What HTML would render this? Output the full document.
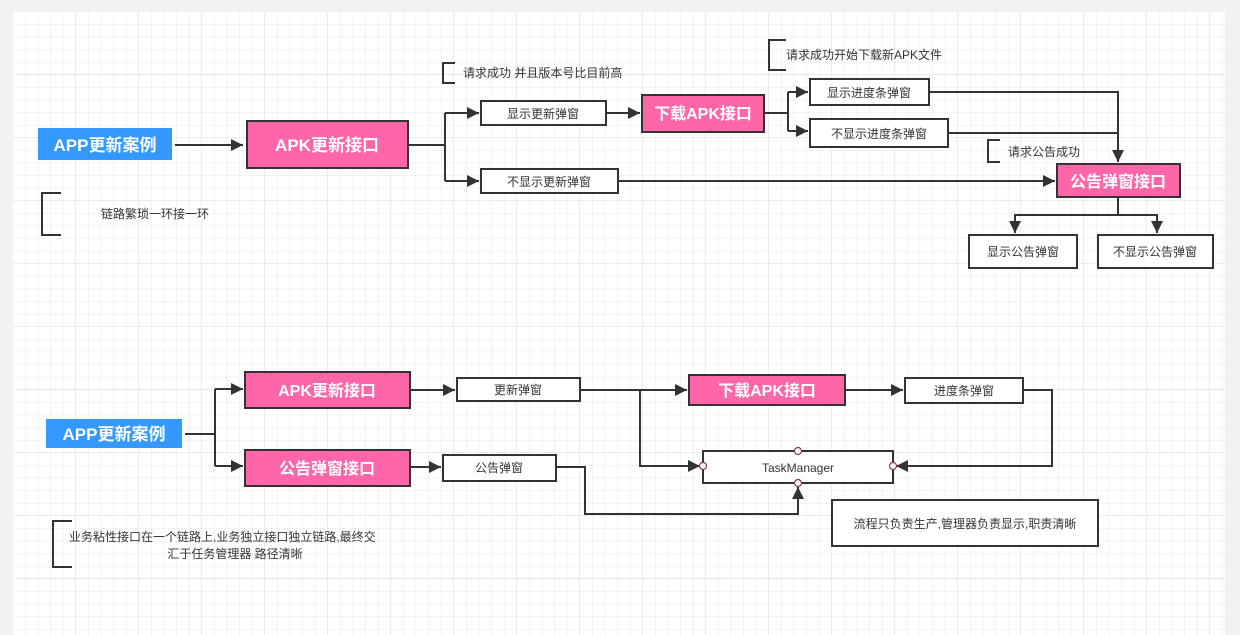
<!DOCTYPE html>
<html><head><meta charset="utf-8"><style>
html,body{margin:0;padding:0;background:#f2f2f2;}
svg{display:block;font-family:"Liberation Sans","Noto Sans CJK SC",sans-serif;}
</style></head><body>
<svg width="1240" height="635" viewBox="0 0 1240 635" xmlns="http://www.w3.org/2000/svg">
<defs>
<pattern id="g" x="13" y="12" width="12.6" height="12.6" patternUnits="userSpaceOnUse">
<path d="M12.6 0V12.6H0" fill="none" stroke="#e6e6e6" stroke-width="1"/>
</pattern>
<pattern id="G" x="13" y="12" width="63" height="63" patternUnits="userSpaceOnUse">
<path d="M63 0V63H0" fill="none" stroke="#d9d9d9" stroke-width="1"/>
</pattern>
<marker id="a" viewBox="0 0 10 10" refX="10" refY="5" markerWidth="6" markerHeight="6" orient="auto" markerUnits="strokeWidth"><path d="M0 0L10 5L0 10z" fill="#333"/></marker>
</defs>
<rect x="13" y="12" width="1212" height="623" fill="#fff"/>
<rect x="13" y="12" width="1212" height="623" fill="url(#g)"/>
<rect x="13" y="12" width="1212" height="623" fill="url(#G)"/>

<g stroke="#333" stroke-width="2" fill="none">
<path d="M175 145H243" marker-end="url(#a)"/>
<path d="M408 145H445M445 113V181M445 113H479" marker-end="url(#a)"/>
<path d="M445 181H479" marker-end="url(#a)"/>
<path d="M606 113H640" marker-end="url(#a)"/>
<path d="M764 113H788M788 92V131M788 92H808" marker-end="url(#a)"/>
<path d="M788 131H808" marker-end="url(#a)"/>
<path d="M929 92H1118V162" marker-end="url(#a)"/>
<path d="M948 133H1118"/>
<path d="M618 181H1055" marker-end="url(#a)"/>
<path d="M1118 197V215H1015V233" marker-end="url(#a)"/>
<path d="M1118 215H1157V233" marker-end="url(#a)"/>
<path d="M455 63H443V83H455"/>
<path d="M786 40H769V70H786"/>
<path d="M1000 140H988V162H1000"/>
<path d="M61 193H42V235H61"/>
<path d="M72 521H53V567H72"/>
<path d="M185 434H215M215 389V466M215 389H243" marker-end="url(#a)"/>
<path d="M215 466H243" marker-end="url(#a)"/>
<path d="M410 390H455" marker-end="url(#a)"/>
<path d="M410 467H441" marker-end="url(#a)"/>
<path d="M580 390H687" marker-end="url(#a)"/>
<path d="M640 390V466H700" marker-end="url(#a)"/>
<path d="M845 390H903" marker-end="url(#a)"/>
<path d="M1023 390H1052V466H896" marker-end="url(#a)"/>
<path d="M556 467H585V514H798V487" marker-end="url(#a)"/>
</g>

<rect x="38" y="128" width="134" height="32" fill="#3399ff"/>
<text x="105" y="151" fill="#fff" font-size="17" font-weight="bold" text-anchor="middle">APP更新案例</text>
<rect x="247" y="121" width="161" height="47" fill="#ff66aa" stroke="#333" stroke-width="2"/>
<text x="327" y="151" fill="#fff" font-size="17" font-weight="bold" text-anchor="middle">APK更新接口</text>
<g fill="#fff" stroke="#333" stroke-width="2">
<rect x="481" y="101" width="125" height="24"/>
<rect x="481" y="169" width="137" height="24"/>
<rect x="810" y="79" width="119" height="26"/>
<rect x="810" y="119" width="138" height="28"/>
<rect x="969" y="235" width="108" height="33"/>
<rect x="1098" y="235" width="115" height="33"/>
<rect x="457" y="378" width="123" height="23"/>
<rect x="443" y="455" width="113" height="26"/>
<rect x="905" y="378" width="118" height="25"/>
<rect x="703" y="451" width="190" height="32"/>
<rect x="832" y="500" width="266" height="46"/>
</g>
<rect x="642" y="95" width="122" height="37" fill="#ff66aa" stroke="#333" stroke-width="2"/>
<text x="703" y="119" fill="#fff" font-size="16" font-weight="bold" text-anchor="middle">下载APK接口</text>
<rect x="1057" y="164" width="123" height="33" fill="#ff66aa" stroke="#333" stroke-width="2"/>
<text x="1118" y="187" fill="#fff" font-size="16" font-weight="bold" text-anchor="middle">公告弹窗接口</text>

<g font-size="12" fill="#333" text-anchor="middle">
<text x="543" y="118">显示更新弹窗</text>
<text x="549" y="186">不显示更新弹窗</text>
<text x="869" y="97">显示进度条弹窗</text>
<text x="879" y="138">不显示进度条弹窗</text>
<text x="1023" y="256">显示公告弹窗</text>
<text x="1155" y="256">不显示公告弹窗</text>
<text x="518" y="394">更新弹窗</text>
<text x="499" y="472">公告弹窗</text>
<text x="964" y="395">进度条弹窗</text>
<text x="798" y="472">TaskManager</text>
<text x="965" y="528">流程只负责生产,管理器负责显示,职责清晰</text>
<text x="235" y="558">汇于任务管理器 路径清晰</text>
</g>
<g font-size="12" fill="#333">
<text x="463" y="77">请求成功 并且版本号比目前高</text>
<text x="786" y="59">请求成功开始下载新APK文件</text>
<text x="1008" y="156">请求公告成功</text>
<text x="101" y="218">链路繁琐一环接一环</text>
<text x="69" y="541">业务粘性接口在一个链路上,业务独立接口独立链路,最终交</text>
</g>

<rect x="46" y="419" width="136" height="29" fill="#3399ff"/>
<text x="114" y="440" fill="#fff" font-size="17" font-weight="bold" text-anchor="middle">APP更新案例</text>
<rect x="245" y="372" width="165" height="36" fill="#ff66aa" stroke="#333" stroke-width="2"/>
<text x="327" y="396" fill="#fff" font-size="16" font-weight="bold" text-anchor="middle">APK更新接口</text>
<rect x="245" y="450" width="165" height="36" fill="#ff66aa" stroke="#333" stroke-width="2"/>
<text x="327" y="474" fill="#fff" font-size="16" font-weight="bold" text-anchor="middle">公告弹窗接口</text>
<rect x="689" y="375" width="156" height="30" fill="#ff66aa" stroke="#333" stroke-width="2"/>
<text x="767" y="396" fill="#fff" font-size="16" font-weight="bold" text-anchor="middle">下载APK接口</text>

<g fill="#fff" stroke="#8b3a4a" stroke-width="1.2">
<circle cx="703" cy="466" r="3.5"/>
<circle cx="893" cy="466" r="3.5"/>
<circle cx="798" cy="451" r="3.5"/>
<circle cx="798" cy="483" r="3.5"/>
</g>
</svg>
</body></html>
